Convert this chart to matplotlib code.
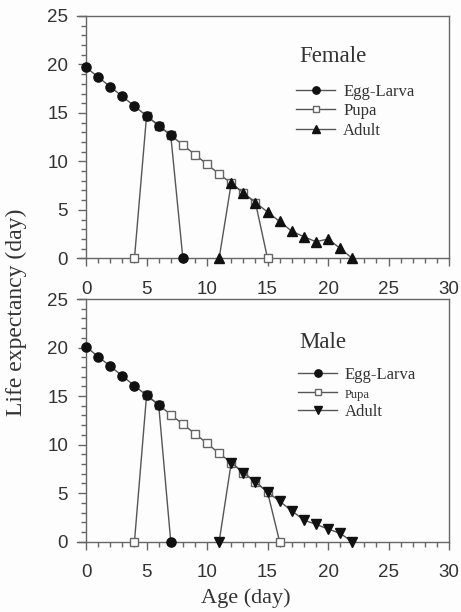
import matplotlib
matplotlib.use("Agg")
import matplotlib.pyplot as plt
from matplotlib.ticker import MultipleLocator

# ---------------- data ----------------
f_egg_x = [0, 1, 2, 3, 4, 5, 6, 7, 8]
f_egg_y = [19.7, 18.7, 17.7, 16.7, 15.7, 14.7, 13.7, 12.7, 0]
f_pupa_x = [4, 5, 6, 7, 8, 9, 10, 11, 12, 13, 14, 15]
f_pupa_y = [0, 14.7, 13.7, 12.7, 11.7, 10.7, 9.7, 8.7, 7.75, 6.75, 5.75, 0]
f_adult_x = [11, 12, 13, 14, 15, 16, 17, 18, 19, 20, 21, 22]
f_adult_y = [0, 7.75, 6.75, 5.75, 4.78, 3.8, 2.8, 2.23, 1.71, 1.99, 1.03, 0]

m_egg_x = [0, 1, 2, 3, 4, 5, 6, 7]
m_egg_y = [20.1, 19.05, 18.09, 17.06, 16.07, 15.08, 14.11, 0]
m_pupa_x = [4, 5, 6, 7, 8, 9, 10, 11, 12, 13, 14, 15, 16]
m_pupa_y = [0, 15.08, 14.11, 13.08, 12.12, 11.12, 10.13, 9.1, 8.14, 7.11, 6.15, 5.12, 0]
m_adult_x = [11, 12, 13, 14, 15, 16, 17, 18, 19, 20, 21, 22]
m_adult_y = [0, 8.14, 7.11, 6.15, 5.12, 4.16, 3.19, 2.23, 1.79, 1.31, 0.86, 0]

labels = ["Egg-Larva", "Pupa", "Adult"]
x_ticks = [0, 5, 10, 15, 20, 25, 30]
y_ticks = [0, 5, 10, 15, 20, 25]

# ---------------- style ----------------
LINE = "#555555"
SPINE = "#666666"
TXT = "#333333"
SERIF = ["Liberation Serif", "DejaVu Serif"]
SANS = ["Liberation Sans", "DejaVu Sans"]

fig = plt.figure(figsize=(4.61, 6.12), dpi=100)
fig.patch.set_facecolor("#fdfdfd")

W, H = 461.0, 612.0
def ax_rect(left, right, top, bottom):
    return [left / W, 1 - bottom / H, (right - left) / W, (bottom - top) / H]

ax1 = fig.add_axes(ax_rect(77, 449, 16, 258.3))
ax2 = fig.add_axes(ax_rect(77, 449, 299, 541.7))


def setup(ax):
    ax.set_xlim(-0.75, 30)
    ax.set_ylim(0, 25)
    ax.set_facecolor("#fdfdfd")
    ax.spines["left"].set_position(("data", 0))
    for s in ax.spines.values():
        s.set_color(SPINE)
        s.set_linewidth(1.0)
    ax.xaxis.set_major_locator(MultipleLocator(5))
    ax.xaxis.set_minor_locator(MultipleLocator(1))
    ax.yaxis.set_major_locator(MultipleLocator(5))
    ax.yaxis.set_minor_locator(MultipleLocator(1))
    ax.set_xticks(x_ticks)
    ax.set_yticks(y_ticks)
    ax.tick_params(which="both", direction="out", color=SPINE, width=1.0,
                   top=False, right=False)
    ax.tick_params(which="major", length=6, labelsize=13.5, labelcolor=TXT)
    ax.tick_params(axis="x", which="major", pad=10)
    ax.tick_params(axis="y", which="major", pad=7)
    ax.tick_params(which="minor", length=3.5)
    for lab in ax.get_xticklabels() + ax.get_yticklabels():
        lab.set_fontfamily(SANS)


def draw(ax, ex, ey, px, py, axx, ay, adult_marker):
    hp, = ax.plot(px, py, color=LINE, lw=1.0, marker="s", ms=5.5,
                  mfc="white", mec="#666666", mew=1.0, clip_on=False, zorder=3)
    he, = ax.plot(ex, ey, color=LINE, lw=1.0, marker="o", ms=6.6,
                  mfc="#111111", mec="#111111", clip_on=False, zorder=4)
    ha, = ax.plot(axx, ay, color=LINE, lw=1.0, marker=adult_marker, ms=6.6,
                  mfc="#111111", mec="#111111", clip_on=False, zorder=4)
    return [he, hp, ha]


setup(ax1)
setup(ax2)

h1 = draw(ax1, f_egg_x, f_egg_y, f_pupa_x, f_pupa_y, f_adult_x, f_adult_y, "^")
h2 = draw(ax2, m_egg_x, m_egg_y, m_pupa_x, m_pupa_y, m_adult_x, m_adult_y, "v")

ax1.text(0.597, 0.81, "Female", transform=ax1.transAxes, fontsize=16.5,
         family=SERIF, color=TXT, va="baseline", ha="left")
ax2.text(0.597, 0.80, "Male", transform=ax2.transAxes, fontsize=16.5,
         family=SERIF, color=TXT, va="baseline", ha="left")

leg_kw = dict(loc="upper left", frameon=False,
              prop={"family": SERIF, "size": 12}, markerscale=0.8,
              handlelength=2.3, handletextpad=0.5, labelspacing=0.2,
              borderpad=0, borderaxespad=0)
leg1 = ax1.legend(h1, labels, bbox_to_anchor=(0.59, 0.72), **leg_kw)
leg2 = ax2.legend(h2, labels, bbox_to_anchor=(0.595, 0.72), **leg_kw)
for leg in (leg1, leg2):
    for t in leg.get_texts():
        t.set_color(TXT)
leg2.get_texts()[1].set_fontsize(9)

fig.text(0.036, 0.49, "Life expectancy (day)", rotation=90, fontsize=17,
         family=SERIF, color=TXT, ha="center", va="center")
fig.text(0.533, 0.022, "Age (day)", fontsize=16, family=SERIF, color=TXT,
         ha="center", va="center")

fig.savefig("out.png", dpi=100, facecolor=fig.get_facecolor())
